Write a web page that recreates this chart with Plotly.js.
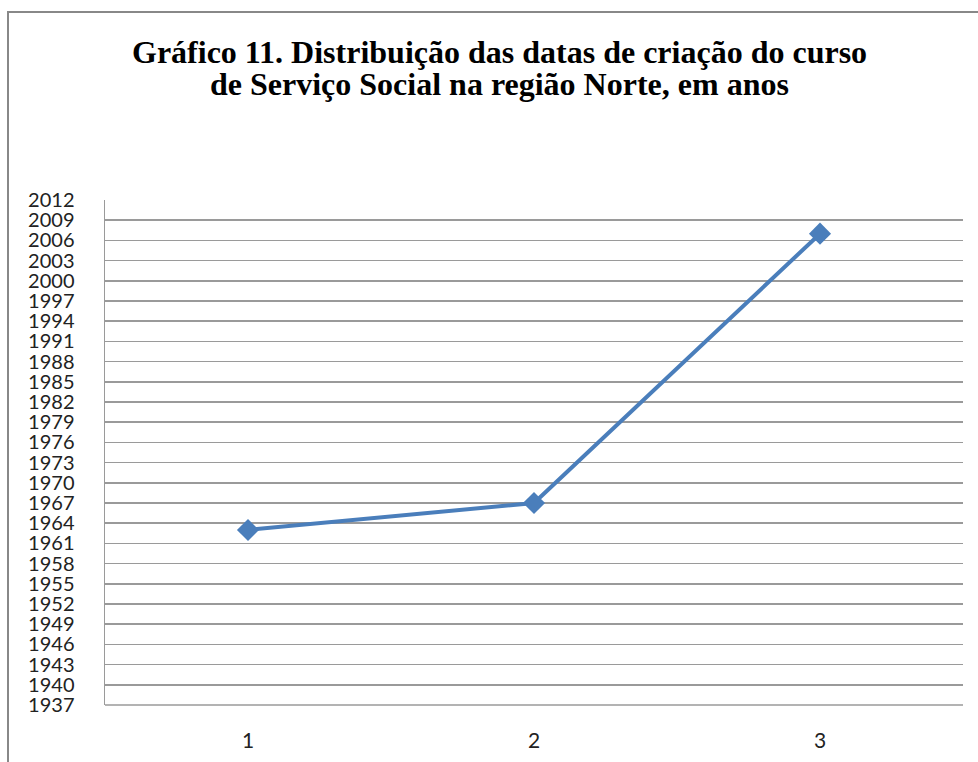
<!DOCTYPE html>
<html>
<head>
<meta charset="utf-8">
<script src="https://cdn.plot.ly/plotly-3.0.1.min.js"></script>
<style>html,body{margin:0;padding:0;background:#fff;}#chart{width:978px;height:762px;}</style>
</head>
<body>
<div id="chart"></div>
<script>
const categories = [1, 2, 3];
const years = [1963, 1967, 2007];
const yTicks = [1937,1940,1943,1946,1949,1952,1955,1958,1961,1964,1967,1970,1973,1976,1979,1982,1985,1988,1991,1994,1997,2000,2003,2006,2009,2012];
const titleLines = ["Gráfico 11. Distribuição das datas de criação do curso", "de Serviço Social na região Norte, em anos"];

const W = 978, H = 762;
const M = {l: 105, r: 15, t: 200, b: 57};
const PW = W - M.l - M.r, PH = H - M.t - M.b;
const px2x = p => (p - M.l) / PW;
const py2y = p => 1 - (p - M.t) / PH;

const trace = {
  x: categories,
  y: years,
  type: 'scatter',
  mode: 'lines+markers',
  line: {color: '#4A7EBB', width: 4},
  marker: {symbol: 'diamond', size: 17, color: '#4A7EBB'},
  hoverinfo: 'skip'
};

const titleFont = {family: 'Liberation Serif', size: 32, color: '#000', weight: 'bold'};

const layout = {
  width: W, height: H,
  margin: M,
  paper_bgcolor: '#fff', plot_bgcolor: '#fff',
  showlegend: false,
  xaxis: {
    range: [0.5, 3.5],
    tickvals: categories,
    ticktext: categories.map(String),
    showgrid: false, zeroline: false,
    showline: false, ticks: '',
    tickfont: {family: 'Lato', size: 21, color: '#222'},
    ticklabelstandoff: 21
  },
  yaxis: {
    range: [1937, 2012],
    tickvals: yTicks,
    ticktext: yTicks.map(String),
    showgrid: true, gridcolor: '#9a9a9a', gridwidth: 1.5,
    zeroline: false,
    showline: true, linecolor: '#9a9a9a', linewidth: 1.5,
    ticks: '',
    tickfont: {family: 'Lato', size: 20, color: '#222'},
    ticklabelstandoff: 25
  },
  annotations: titleLines.map((t, i) => ({
    text: '<b>' + t + '</b>',
    xref: 'paper', yref: 'paper',
    x: px2x(499.5), y: py2y(i === 0 ? 52 : 84),
    xanchor: 'center', yanchor: 'middle',
    showarrow: false,
    font: titleFont
  })),
  shapes: [
    {type: 'line', xref: 'paper', yref: 'paper', x0: 0, x1: 1, y0: 0, y1: 0, line: {color: '#9a9a9a', width: 1.5}},
    {type: 'path', xref: 'paper', yref: 'paper',
     path: 'M ' + px2x(8) + ' ' + py2y(H + 20) + ' L ' + px2x(8) + ' ' + py2y(12) + ' L ' + px2x(W + 20) + ' ' + py2y(12),
     line: {color: '#888', width: 2}}
  ]
};

Plotly.newPlot('chart', [trace], layout, {displayModeBar: false, staticPlot: true});
</script>
</body>
</html>
